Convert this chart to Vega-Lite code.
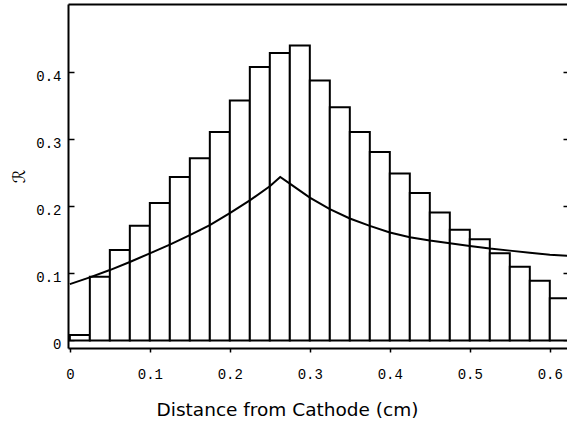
{
  "$schema": "https://vega.github.io/schema/vega-lite/v6.json",
  "width": 499,
  "height": 344,
  "autosize": {"type": "none"},
  "padding": {"left": 68, "top": 4, "right": 0, "bottom": 85},
  "background": "white",
  "config": {
    "view": {"stroke": null},
    "axis": {"grid": false, "domainColor": "black", "tickColor": "black", "labelColor": "black", "titleColor": "black"}
  },
  "datasets": {
    "bars": [
      {"x0": 0.000, "x1": 0.025, "r": 0.008},
      {"x0": 0.025, "x1": 0.050, "r": 0.095},
      {"x0": 0.050, "x1": 0.075, "r": 0.135},
      {"x0": 0.075, "x1": 0.100, "r": 0.171},
      {"x0": 0.100, "x1": 0.125, "r": 0.205},
      {"x0": 0.125, "x1": 0.150, "r": 0.244},
      {"x0": 0.150, "x1": 0.175, "r": 0.272},
      {"x0": 0.175, "x1": 0.200, "r": 0.311},
      {"x0": 0.200, "x1": 0.225, "r": 0.358},
      {"x0": 0.225, "x1": 0.250, "r": 0.408},
      {"x0": 0.250, "x1": 0.275, "r": 0.429},
      {"x0": 0.275, "x1": 0.300, "r": 0.440},
      {"x0": 0.300, "x1": 0.325, "r": 0.388},
      {"x0": 0.325, "x1": 0.350, "r": 0.348},
      {"x0": 0.350, "x1": 0.375, "r": 0.311},
      {"x0": 0.375, "x1": 0.400, "r": 0.281},
      {"x0": 0.400, "x1": 0.425, "r": 0.249},
      {"x0": 0.425, "x1": 0.450, "r": 0.220},
      {"x0": 0.450, "x1": 0.475, "r": 0.191},
      {"x0": 0.475, "x1": 0.500, "r": 0.165},
      {"x0": 0.500, "x1": 0.525, "r": 0.151},
      {"x0": 0.525, "x1": 0.550, "r": 0.130},
      {"x0": 0.550, "x1": 0.575, "r": 0.110},
      {"x0": 0.575, "x1": 0.600, "r": 0.089},
      {"x0": 0.600, "x1": 0.625, "r": 0.063}
    ],
    "curve": [
      {"d": 0.000, "r": 0.084},
      {"d": 0.025, "r": 0.094},
      {"d": 0.050, "r": 0.105},
      {"d": 0.075, "r": 0.117},
      {"d": 0.100, "r": 0.130},
      {"d": 0.125, "r": 0.143},
      {"d": 0.150, "r": 0.157},
      {"d": 0.175, "r": 0.172},
      {"d": 0.200, "r": 0.190},
      {"d": 0.225, "r": 0.209},
      {"d": 0.250, "r": 0.230},
      {"d": 0.263, "r": 0.244},
      {"d": 0.275, "r": 0.234},
      {"d": 0.300, "r": 0.213},
      {"d": 0.325, "r": 0.196},
      {"d": 0.350, "r": 0.182},
      {"d": 0.375, "r": 0.171},
      {"d": 0.400, "r": 0.161},
      {"d": 0.425, "r": 0.154},
      {"d": 0.450, "r": 0.149},
      {"d": 0.475, "r": 0.145},
      {"d": 0.500, "r": 0.141},
      {"d": 0.525, "r": 0.137},
      {"d": 0.550, "r": 0.134},
      {"d": 0.575, "r": 0.131},
      {"d": 0.600, "r": 0.128},
      {"d": 0.625, "r": 0.126}
    ]
  },
  "resolve": {"axis": {"x": "independent", "y": "independent"}},
  "layer": [
    {
      "data": {"name": "bars"},
      "mark": {"type": "bar", "fill": "white", "stroke": "black", "strokeWidth": 2, "clip": true},
      "encoding": {
        "x": {
          "field": "x0", "type": "quantitative",
          "scale": {"domain": [-0.0023, 0.6215], "nice": false, "zero": false},
          "axis": {
            "orient": "bottom",
            "title": "Distance from Cathode (cm)",
            "values": [0, 0.1, 0.2, 0.3, 0.4, 0.5, 0.6],
            "format": ".1~f",
            "domainWidth": 2,
            "tickSize": 4,
            "tickWidth": 1.5,
            "labelFont": "Liberation Mono",
            "labelFontSize": 14,
            "labelPadding": 15,
            "labelBaseline": "top",
            "labelFlush": false,
            "titleFont": "DejaVu Sans",
            "titleFontSize": 18.5,
            "titleFontWeight": "normal",
            "titleX": 219,
            "titleY": 52,
            "titleBaseline": "top",
            "titleAnchor": "middle"
          }
        },
        "x2": {"field": "x1"},
        "y": {
          "field": "r", "type": "quantitative",
          "scale": {"domain": [-0.0113, 0.502], "nice": false, "zero": false},
          "axis": {
            "orient": "left",
            "title": "ℛ",
            "values": [0, 0.1, 0.2, 0.3, 0.4],
            "format": ".1~f",
            "domainWidth": 2,
            "tickSize": -6,
            "tickWidth": 1.5,
            "labelFont": "Liberation Mono",
            "labelFontSize": 14,
            "labelPadding": 13,
            "labelOffset": 4,
            "labelFlush": false,
            "titleFont": "DejaVu Sans",
            "titleFontSize": 17,
            "titleFontWeight": "normal",
            "titleAngle": -90,
            "titleX": -49,
            "titleY": 172,
            "titleBaseline": "middle",
            "titleAlign": "center"
          }
        },
        "y2": {"datum": 0}
      }
    },
    {
      "data": {"name": "curve"},
      "mark": {"type": "line", "color": "black", "strokeWidth": 2, "clip": true},
      "encoding": {
        "x": {"field": "d", "type": "quantitative",
          "axis": {"orient": "top", "title": null, "labels": false, "ticks": false, "domainWidth": 2}},
        "y": {"field": "r", "type": "quantitative",
          "axis": {"orient": "right", "title": null, "labels": false, "domain": false, "tickSize": -4, "tickWidth": 1.5, "values": [0, 0.1, 0.2, 0.3, 0.4]}}
      }
    },
    {
      "mark": {"type": "rule", "color": "black", "strokeWidth": 2},
      "encoding": {"y": {"datum": 0, "axis": null}}
    }
  ]
}
